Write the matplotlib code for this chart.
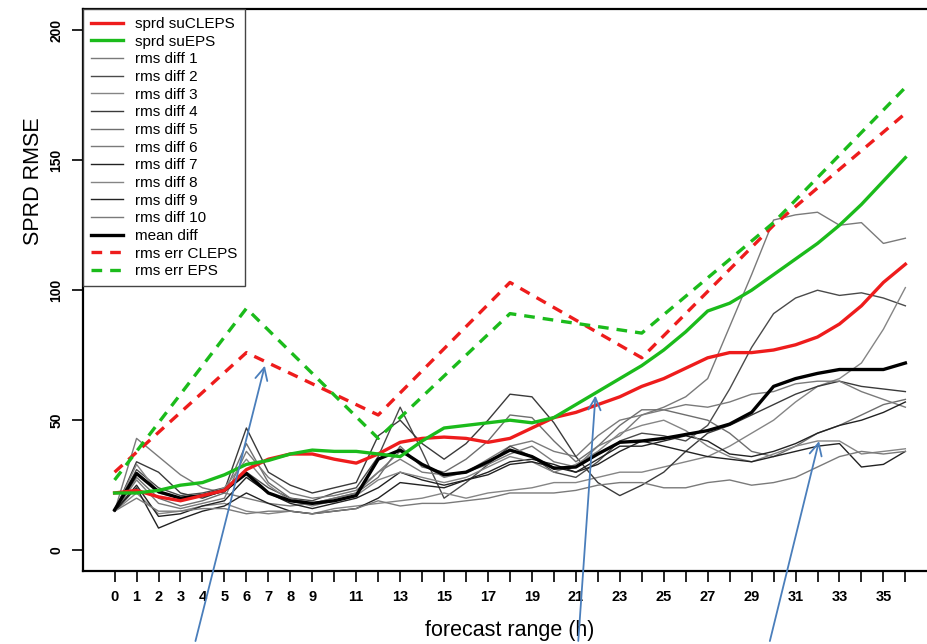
import numpy as np
import matplotlib.pyplot as plt

# ================= data =================
hours = list(range(37))
err_hours = [0, 6, 12, 18, 24, 30, 36]

sprd_cleps = [22, 23, 20.5, 19, 21, 23, 31, 35, 37, 37, 35, 33.5, 37, 41.5, 43, 43.5, 43, 41.5,
              43, 47, 51, 53, 56, 59, 63, 66, 70, 74, 76, 76, 77, 79, 82, 87, 94, 103, 110]
sprd_eps = [22, 22, 23, 25, 26, 29, 33, 34.5, 37, 38.5, 38, 38, 37, 36, 42, 47, 48, 49,
            50, 49, 51, 56, 61, 66, 71, 77, 84, 92, 95, 100, 106, 112, 118, 125, 133, 142, 151]
mean_diff = [15.5, 29.5, 22.5, 20, 21, 23, 29.5, 22, 19, 18, 19, 21, 35, 38.5, 33, 29, 30,
             34, 38.5, 36, 31.5, 32, 37, 41.5, 42, 43, 44.5, 46, 48.5, 53, 63, 66, 68, 69.5,
             69.5, 69.5, 72]
rms_err_cleps = [30, 76, 52, 103, 74, 125, 168]
rms_err_eps = [27, 93, 43, 91, 83.5, 126, 178]

rms_diff_1 = [15, 43, 36, 29, 24, 22, 20, 18, 17, 18, 20, 22, 30, 38, 33, 28, 30, 35, 40, 42,
              38, 36, 44, 50, 52, 55, 59, 66, 86, 106, 127, 129, 130, 125, 126, 118, 120]
rms_diff_2 = [15, 31, 24, 21, 22, 24, 30, 24, 20, 19, 22, 24, 36, 55, 38, 20, 26, 33, 40, 36,
              30, 28, 34, 42, 45, 44, 42, 48, 62, 78, 91, 97, 100, 98, 99, 97, 94]
rms_diff_3 = [15, 22, 14, 15, 17, 18, 15, 14, 15, 14, 16, 17, 18, 19, 20, 22, 20, 22, 23, 24,
              26, 26, 28, 30, 30, 32, 34, 36, 40, 45, 50, 57, 63, 66, 72, 85, 101]
rms_diff_4 = [15, 34, 30, 22, 20, 23, 47, 30, 25, 22, 24, 26, 44, 50, 41, 35, 41, 50, 60, 59,
              49, 36, 26, 21, 25, 30, 38, 45, 48, 52, 56, 60, 63, 65, 63, 62, 61]
rms_diff_5 = [15, 28, 20, 17, 19, 22, 41, 26, 20, 18, 20, 22, 28, 40, 32, 30, 35, 42, 52, 51,
              42, 34, 40, 48, 54, 54, 52, 50, 45, 38, 36, 40, 45, 48, 52, 56, 58]
rms_diff_6 = [15, 27, 18, 16, 18, 20, 38, 28, 22, 20, 21, 23, 30, 35, 30, 29, 30, 33, 37, 40,
              34, 32, 40, 44, 52, 54, 56, 55, 57, 60, 61, 64, 65, 65, 61, 58, 55]
rms_diff_7 = [15, 25, 13, 14, 17, 19, 28, 22, 18, 16, 18, 20, 24, 30, 27, 25, 27, 30, 34, 35,
              33, 30, 35, 40, 40, 42, 44, 42, 37, 36, 38, 41, 45, 48, 50, 53, 57]
rms_diff_8 = [15, 33, 22, 20, 21, 24, 35, 25, 19, 17, 19, 21, 27, 30, 28, 26, 28, 32, 36, 34,
              30, 33, 38, 45, 48, 50, 46, 40, 36, 34, 37, 40, 42, 42, 37, 38, 39]
rms_diff_9 = [15, 24, 8.5, 12, 15, 17, 22, 18, 15, 14, 15, 16, 20, 26, 25, 24, 27, 29, 33, 34,
              32, 30, 33, 38, 42, 40, 38, 36, 35, 34, 36, 38, 40, 41, 32, 33, 38]
rms_diff_10 = [15, 20, 15, 15, 16, 16, 14, 15, 15, 14, 15, 16, 19, 17, 18, 18, 19, 20, 22, 22,
               22, 23, 25, 26, 26, 24, 24, 26, 27, 25, 26, 28, 32, 36, 38, 37, 38]

rms_diffs = [rms_diff_1, rms_diff_2, rms_diff_3, rms_diff_4, rms_diff_5,
             rms_diff_6, rms_diff_7, rms_diff_8, rms_diff_9, rms_diff_10]
diff_greys = ["#7a7a7a", "#4a4a4a", "#858585", "#3a3a3a", "#6e6e6e",
              "#7a7a7a", "#222222", "#858585", "#222222", "#7a7a7a"]

x_labelled = [0, 1, 2, 3, 4, 5, 6, 7, 8, 9, 11, 13, 15, 17, 19, 21, 23, 25, 27, 29, 31, 33, 35]

# ================= figure =================
plt.rcParams["font.family"] = ["Liberation Sans", "DejaVu Sans"]

fig = plt.figure(figsize=(9.28, 6.44), dpi=100)
ax = fig.add_axes([0.0894, 0.1134, 0.9203, 0.8719])

handles = []
for i, (vals, c) in enumerate(zip(rms_diffs, diff_greys)):
    h, = ax.plot(hours, vals, color=c, lw=1.0, label=f"rms diff {i + 1}")
    handles.append(h)

h_mean, = ax.plot(hours, mean_diff, color="black", lw=2.4, label="mean diff")
h_red, = ax.plot(hours, sprd_cleps, color="#ee1c1c", lw=2.4, label="sprd suCLEPS")
h_green, = ax.plot(hours, sprd_eps, color="#1bbb1b", lw=2.4, label="sprd suEPS")
h_red_d, = ax.plot(err_hours, rms_err_cleps, color="#ee1c1c", lw=2.4,
                   dashes=(3.2, 2.4), label="rms err CLEPS")
h_green_d, = ax.plot(err_hours, rms_err_eps, color="#1bbb1b", lw=2.4,
                     dashes=(3.2, 2.4), label="rms err EPS")

leg_handles = [h_red, h_green] + handles + [h_mean, h_red_d, h_green_d]
leg = ax.legend(handles=leg_handles, loc="upper left", bbox_to_anchor=(0, 1),
                borderaxespad=0, fontsize=11, frameon=True, fancybox=False,
                edgecolor="#444444", framealpha=1, labelspacing=0.24,
                handlelength=2.1, handletextpad=0.8, borderpad=0.5)
leg.get_frame().set_linewidth(1.0)

# ================= axes =================
ax.set_xlim(-1.44, 37.44)
ax.set_ylim(-8, 208)

ax.set_xticks(hours)
ax.set_xticklabels([str(h) if h in x_labelled else "" for h in hours],
                   fontsize=10.5, fontweight="bold")
ax.set_yticks([0, 50, 100, 150, 200])
ax.set_yticklabels(["0", "50", "100", "150", "200"], rotation=90, va="center",
                   fontsize=10, fontweight="bold")
ax.tick_params(axis="both", length=8, width=1.2, pad=6)

for s in ax.spines.values():
    s.set_linewidth(1.6)

ax.set_xlabel("forecast range (h)", fontsize=15.5, labelpad=11)
ax.set_ylabel("SPRD RMSE", fontsize=15.5)
ax.yaxis.set_label_coords(-0.046, 0.695)

# ================= arrows =================
arrow_kw = dict(arrowstyle="->", color="#4a7ebb", lw=1.3, mutation_scale=22)
for head, tail in [((6.87, 72), (3.65, -36)),
                   ((21.9, 60.5), (21.1, -36)),
                   ((32.1, 43), (29.8, -36))]:
    ax.annotate("", xy=head, xytext=tail, xycoords="data", textcoords="data",
                arrowprops=arrow_kw, annotation_clip=False)

fig.savefig("out.png", dpi=100)
